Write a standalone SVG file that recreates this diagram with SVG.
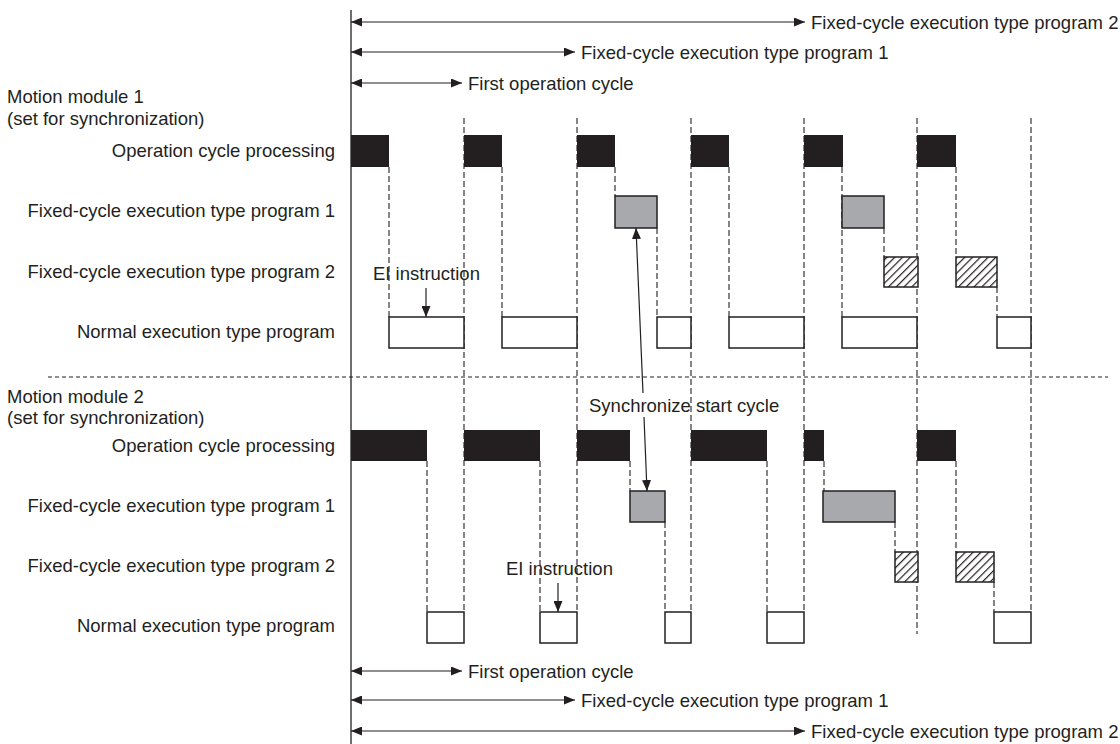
<svg xmlns="http://www.w3.org/2000/svg" width="1120" height="744" viewBox="0 0 1120 744">
<style>
text{font-family:"Liberation Sans",Arial,sans-serif;font-size:18.5px;fill:#231f20}
.r{text-anchor:end}
.blk{fill:#231f20}
.gry{fill:#a7a9ac;stroke:#231f20;stroke-width:1.5}
.nrm{fill:#fff;stroke:#231f20;stroke-width:1.5}
.hat{fill:url(#hatch);stroke:#231f20;stroke-width:1.5}
.dash{stroke:#231f20;stroke-width:1.1;stroke-dasharray:6 3;fill:none}
.sep{stroke:#231f20;stroke-width:1;stroke-dasharray:4 3;fill:none}
.arr{stroke:#231f20;stroke-width:1.2;fill:none;marker-start:url(#ah);marker-end:url(#ah)}
.arr1{stroke:#231f20;stroke-width:1.2;fill:none;marker-end:url(#ah)}
</style>
<defs>
<marker id="ah" markerUnits="userSpaceOnUse" markerWidth="12" markerHeight="9" refX="11" refY="4.5" orient="auto-start-reverse" viewBox="0 0 12 9">
<path d="M0,0 L11,4.5 L0,9 z" fill="#231f20"/>
</marker>
<pattern id="hatch" patternUnits="userSpaceOnUse" width="5.5" height="5.5" patternTransform="rotate(45)">
<rect width="5.5" height="5.5" fill="#fff"/>
<line x1="0.6" y1="0" x2="0.6" y2="5.5" stroke="#231f20" stroke-width="1.2"/>
</pattern>
</defs>
<rect width="1120" height="744" fill="#fff"/>

<g id="guides">
<line x1="351" y1="10" x2="351" y2="744" stroke="#231f20" stroke-width="1.3"/>
<line class="sep" x1="48" y1="377" x2="1108" y2="377"/>
<g id="cycle-lines">
<line class="dash" x1="464" y1="118" x2="464" y2="612"/>
<line class="dash" x1="577" y1="118" x2="577" y2="612"/>
<line class="dash" x1="691" y1="118" x2="691" y2="612"/>
<line class="dash" x1="804" y1="118" x2="804" y2="612"/>
<line class="dash" x1="917" y1="118" x2="917" y2="634"/>
<line class="dash" x1="1031" y1="118" x2="1031" y2="612"/>
</g>
<g id="chain-lines-m1">
<line class="dash" x1="389" y1="167" x2="389" y2="317"/>
<line class="dash" x1="502" y1="167" x2="502" y2="317"/>
<line class="dash" x1="615" y1="167" x2="615" y2="196"/>
<line class="dash" x1="657" y1="228" x2="657" y2="317"/>
<line class="dash" x1="729" y1="167" x2="729" y2="317"/>
<line class="dash" x1="842" y1="167" x2="842" y2="317"/>
<line class="dash" x1="884" y1="228" x2="884" y2="257"/>
<line class="dash" x1="956" y1="167" x2="956" y2="257"/>
<line class="dash" x1="997" y1="287" x2="997" y2="317"/>
</g>
<g id="chain-lines-m2">
<line class="dash" x1="427" y1="461" x2="427" y2="612"/>
<line class="dash" x1="540" y1="461" x2="540" y2="612"/>
<line class="dash" x1="630" y1="461" x2="630" y2="491"/>
<line class="dash" x1="665" y1="522" x2="665" y2="612"/>
<line class="dash" x1="767" y1="461" x2="767" y2="612"/>
<line class="dash" x1="824" y1="461" x2="824" y2="491"/>
<line class="dash" x1="895" y1="522" x2="895" y2="552"/>
<line class="dash" x1="956" y1="461" x2="956" y2="552"/>
<line class="dash" x1="994" y1="582" x2="994" y2="612"/>
</g>
</g>

<g id="module1">
<text x="7" y="103">Motion module 1</text>
<text x="7" y="125">(set for synchronization)</text>
<text class="r" x="335" y="157">Operation cycle processing</text>
<text class="r" x="335" y="217">Fixed-cycle execution type program 1</text>
<text class="r" x="335" y="278">Fixed-cycle execution type program 2</text>
<text class="r" x="335" y="338">Normal execution type program</text>
<g id="m1-op">
<rect class="blk" x="351" y="135" width="38" height="32"/>
<rect class="blk" x="464" y="135" width="38" height="32"/>
<rect class="blk" x="577" y="135" width="38" height="32"/>
<rect class="blk" x="691" y="135" width="38" height="32"/>
<rect class="blk" x="804" y="135" width="39" height="32"/>
<rect class="blk" x="917" y="135" width="39" height="32"/>
</g>
<g id="m1-fc1">
<rect class="gry" x="615" y="196" width="42" height="32"/>
<rect class="gry" x="842" y="196" width="42" height="32"/>
</g>
<g id="m1-fc2">
<rect class="hat" x="884" y="257" width="34" height="30"/>
<rect class="hat" x="956" y="257" width="41" height="30"/>
</g>
<g id="m1-normal">
<rect class="nrm" x="389" y="317" width="75" height="31"/>
<rect class="nrm" x="502" y="317" width="75" height="31"/>
<rect class="nrm" x="657" y="317" width="34" height="31"/>
<rect class="nrm" x="729" y="317" width="75" height="31"/>
<rect class="nrm" x="842" y="317" width="75" height="31"/>
<rect class="nrm" x="997" y="317" width="34" height="31"/>
</g>
<g id="m1-ei">
<text x="373" y="280">EI instruction</text>
<line class="arr1" x1="426" y1="288" x2="426" y2="317"/>
</g>
</g>

<g id="module2">
<text x="7" y="403">Motion module 2</text>
<text x="7" y="424">(set for synchronization)</text>
<text class="r" x="335" y="452">Operation cycle processing</text>
<text class="r" x="335" y="512">Fixed-cycle execution type program 1</text>
<text class="r" x="335" y="572">Fixed-cycle execution type program 2</text>
<text class="r" x="335" y="632">Normal execution type program</text>
<g id="m2-op">
<rect class="blk" x="351" y="430" width="76" height="31"/>
<rect class="blk" x="464" y="430" width="76" height="31"/>
<rect class="blk" x="577" y="430" width="53" height="31"/>
<rect class="blk" x="691" y="430" width="76" height="31"/>
<rect class="blk" x="804" y="430" width="20" height="31"/>
<rect class="blk" x="917" y="430" width="39" height="31"/>
</g>
<g id="m2-fc1">
<rect class="gry" x="630" y="491" width="35" height="31"/>
<rect class="gry" x="823" y="491" width="72" height="31"/>
</g>
<g id="m2-fc2">
<rect class="hat" x="895" y="552" width="23" height="30"/>
<rect class="hat" x="956" y="552" width="38" height="30"/>
</g>
<g id="m2-normal">
<rect class="nrm" x="427" y="612" width="37" height="31"/>
<rect class="nrm" x="540" y="612" width="37" height="31"/>
<rect class="nrm" x="665" y="612" width="26" height="31"/>
<rect class="nrm" x="767" y="612" width="37" height="31"/>
<rect class="nrm" x="994" y="612" width="37" height="31"/>
</g>
<g id="m2-ei">
<text x="506" y="575">EI instruction</text>
<line class="arr1" x1="558" y1="583" x2="558" y2="612"/>
</g>
</g>

<g id="sync">
<path class="arr" d="M636,228 L643,393 M644,417 L647,491"/>
<text x="589" y="412">Synchronize start cycle</text>
</g>

<g id="connectors">
<line class="arr" x1="351" y1="22" x2="805" y2="22"/>
<line class="arr" x1="351" y1="52" x2="575" y2="52"/>
<line class="arr" x1="351" y1="83" x2="462" y2="83"/>
<line class="arr" x1="351" y1="671" x2="462" y2="671"/>
<line class="arr" x1="351" y1="700" x2="575" y2="700"/>
<line class="arr" x1="351" y1="731" x2="805" y2="731"/>
</g>
<g id="span-labels">
<text x="811" y="29">Fixed-cycle execution type program 2</text>
<text x="581" y="59">Fixed-cycle execution type program 1</text>
<text x="468" y="90">First operation cycle</text>
<text x="468" y="678">First operation cycle</text>
<text x="581" y="707">Fixed-cycle execution type program 1</text>
<text x="811" y="738">Fixed-cycle execution type program 2</text>
</g>
</svg>
